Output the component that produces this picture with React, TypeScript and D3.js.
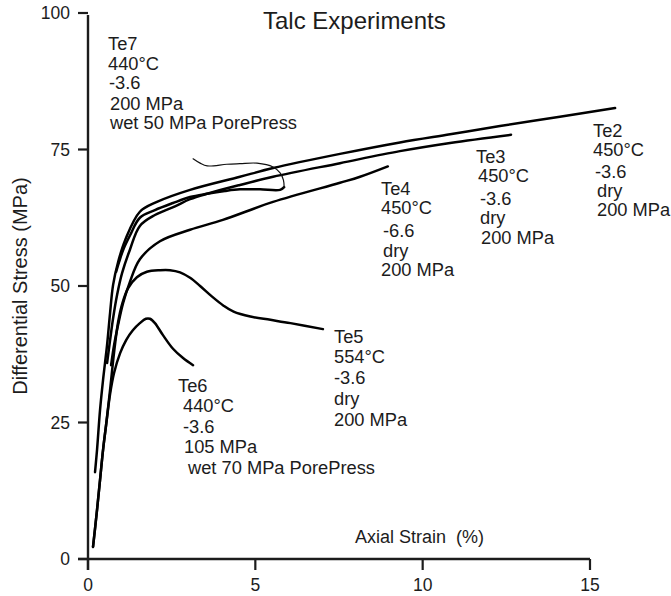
import React from "react";
import * as d3 from "d3";

// ---- Data (strain %, differential stress MPa) ----
const te2: [number, number][] = [
  [0.21, 15.9], [0.27, 20.0], [0.36, 27.3], [0.45, 32.8], [0.57, 39.2], [0.66, 45.1],
  [0.75, 50.2], [0.9, 54.4], [1.11, 58.4], [1.55, 63.6], [2.06, 65.4], [3.05, 67.6],
  [4.54, 70.0], [5.53, 71.6], [7.53, 74.2], [9.32, 76.3], [10.82, 77.8], [12.31, 79.3],
  [14.1, 81.0], [15.75, 82.6],
];
const te3: [number, number][] = [
  [0.57, 35.9], [0.66, 40.1], [0.75, 44.1], [0.87, 48.4], [1.02, 52.4], [1.25, 56.6],
  [1.55, 61.0], [2.0, 63.0], [2.6, 64.6], [3.05, 65.9], [3.56, 66.9], [4.54, 68.5],
  [5.53, 70.0], [7.53, 72.5], [9.32, 74.7], [10.82, 76.2], [12.64, 77.7],
];
const te4: [number, number][] = [
  [0.69, 35.5], [0.78, 39.2], [0.9, 42.9], [1.05, 46.9], [1.25, 50.7], [1.55, 54.9],
  [2.15, 58.2], [3.05, 60.3], [4.03, 62.1], [5.53, 65.4], [7.53, 68.9], [8.13, 70.0],
  [8.96, 71.9],
];
const te5: [number, number][] = [
  [0.15, 2.2], [0.27, 9.0], [0.36, 14.5], [0.45, 20.0], [0.54, 24.5], [0.66, 31.0],
  [0.78, 37.9], [0.9, 43.4], [1.02, 46.7], [1.2, 49.6], [1.46, 51.6], [1.76, 52.6],
  [2.15, 52.9], [2.45, 52.9], [2.75, 52.5], [3.05, 51.5], [3.35, 50.0], [3.7, 48.1],
  [4.05, 46.4], [4.35, 45.3], [4.85, 44.4], [5.45, 43.8], [6.05, 43.2], [7.02, 42.1],
];
const te6: [number, number][] = [
  [0.15, 2.2], [0.27, 9.0], [0.36, 14.5], [0.45, 20.0], [0.56, 25.5], [0.66, 30.2],
  [0.78, 34.1], [0.96, 37.7], [1.14, 40.1], [1.34, 41.9], [1.55, 43.2], [1.73, 44.0],
  [1.85, 44.0], [2.0, 43.2], [2.24, 41.0], [2.54, 38.5], [2.84, 36.8], [3.14, 35.5],
];
const te7: [number, number][] = [
  [0.84, 52.6], [0.93, 54.4], [1.05, 56.6], [1.25, 59.2], [1.55, 62.5], [2.0, 63.9],
  [2.54, 65.2], [3.05, 66.3], [3.56, 66.9], [4.09, 67.4], [4.54, 67.7], [5.14, 67.7],
  [5.74, 67.6], [5.86, 68.1],
];
const te7Unload: [number, number][] = [
  [5.86, 68.1], [5.84, 69.4], [5.74, 70.7], [5.53, 71.8], [5.05, 72.5], [4.54, 72.4],
  [4.15, 72.3], [3.56, 72.0], [3.35, 72.5], [3.14, 73.3],
];

const xTicks = [0, 5, 10, 15];
const yTicks = [0, 25, 50, 75, 100];

const te2Label = ["Te2", "450°C", "-3.6", "dry", "200 MPa"];
const te3Label = ["Te3", "450°C", "-3.6", "dry", "200 MPa"];
const te4Label = ["Te4", "450°C", "-6.6", "dry", "200 MPa"];
const te5Label = ["Te5", "554°C", "-3.6", "dry", "200 MPa"];
const te6Label = ["Te6", "440°C", "-3.6", "105 MPa", "wet 70 MPa PorePress"];
const te7Label = ["Te7", "440°C", "-3.6", "200 MPa", "wet 50 MPa PorePress"];

const title = "Talc Experiments";
const xTitle = "Axial Strain  (%)";
const yTitle = "Differential Stress (MPa)";

// ---- Layout ----
const W = 671;
const H = 596;
const FONT = "'Liberation Sans', Arial, Helvetica, sans-serif";
const INK = "#1c1c1c";
const LABEL_SIZE = 18.3;

const labelLayout = [
  { lines: te7Label, xs: [108, 108, 109, 110, 110], ys: [50, 70, 89, 110, 129] },
  { lines: te6Label, xs: [178, 183, 183, 184, 188], ys: [392, 412, 433, 453, 474] },
  { lines: te5Label, xs: [334, 334, 334, 334, 334], ys: [343, 363, 384, 405, 426] },
  { lines: te4Label, xs: [381, 381, 383, 383, 381], ys: [195, 214, 237, 257, 276] },
  { lines: te3Label, xs: [476, 478, 480, 480, 481], ys: [163, 182, 205, 224, 244] },
  { lines: te2Label, xs: [593, 593, 595, 597, 597], ys: [137, 156, 178, 197, 216] },
];

export default function App() {
  const x = d3.scaleLinear().domain([0, 15]).range([88, 590]);
  const y = d3.scaleLinear().domain([0, 100]).range([559, 13]);

  const line = d3
    .line<[number, number]>()
    .x((d) => x(d[0]))
    .y((d) => y(d[1]))
    .curve(d3.curveCatmullRom.alpha(0.5));

  const mainSeries = [te2, te3, te4, te5, te6, te7];

  return (
    <svg
      width={W}
      height={H}
      style={{ position: "absolute", left: 0, top: 0, background: "#fff" }}
      fontFamily={FONT}
    >
      <rect width={W} height={H} fill="#fff" />
      {/* axes */}
      <line x1={x(0)} x2={x(0)} y1={y(100) + 2} y2={y(0) + 11} stroke={INK} strokeWidth={2.4} />
      <line x1={x(0) - 10} x2={x(15)} y1={y(0)} y2={y(0)} stroke={INK} strokeWidth={2.4} />
      {yTicks.map((t) => (
        <g key={"y" + t}>
          <line x1={x(0) - 10} x2={x(0)} y1={y(t)} y2={y(t)} stroke={INK} strokeWidth={2.2} />
          <text x={x(0) - 18} y={y(t) + 6} textAnchor="end" fontSize={17.5} fill={INK}>
            {t}
          </text>
        </g>
      ))}
      {xTicks.map((t) => (
        <g key={"x" + t}>
          <line x1={x(t)} x2={x(t)} y1={y(0)} y2={y(0) + 11} stroke={INK} strokeWidth={2.2} />
          <text x={x(t)} y={591} textAnchor="middle" fontSize={17.5} fill={INK}>
            {t}
          </text>
        </g>
      ))}
      {/* titles */}
      <text x={263} y={29} fontSize={24} fill={INK}>
        {title}
      </text>
      <text x={355} y={543} fontSize={18} fill={INK} style={{ whiteSpace: "pre" }}>
        {xTitle}
      </text>
      <text
        transform={`translate(27, 286) rotate(-90)`}
        textAnchor="middle"
        fontSize={20}
        fill={INK}
      >
        {yTitle}
      </text>
      {/* curves */}
      {mainSeries.map((s, i) => (
        <path
          key={"s" + i}
          d={line(s) || ""}
          fill="none"
          stroke="#000"
          strokeWidth={2.5}
          strokeLinecap="round"
          strokeLinejoin="round"
        />
      ))}
      <path
        d={line(te7Unload) || ""}
        fill="none"
        stroke="#111"
        strokeWidth={1.2}
        strokeLinecap="round"
      />
      {/* annotations */}
      {labelLayout.map((lab, i) => (
        <g key={"l" + i}>
          {lab.lines.map((t, j) => (
            <text key={j} x={lab.xs[j]} y={lab.ys[j]} fontSize={LABEL_SIZE} fill={INK}>
              {t}
            </text>
          ))}
        </g>
      ))}
    </svg>
  );
}
